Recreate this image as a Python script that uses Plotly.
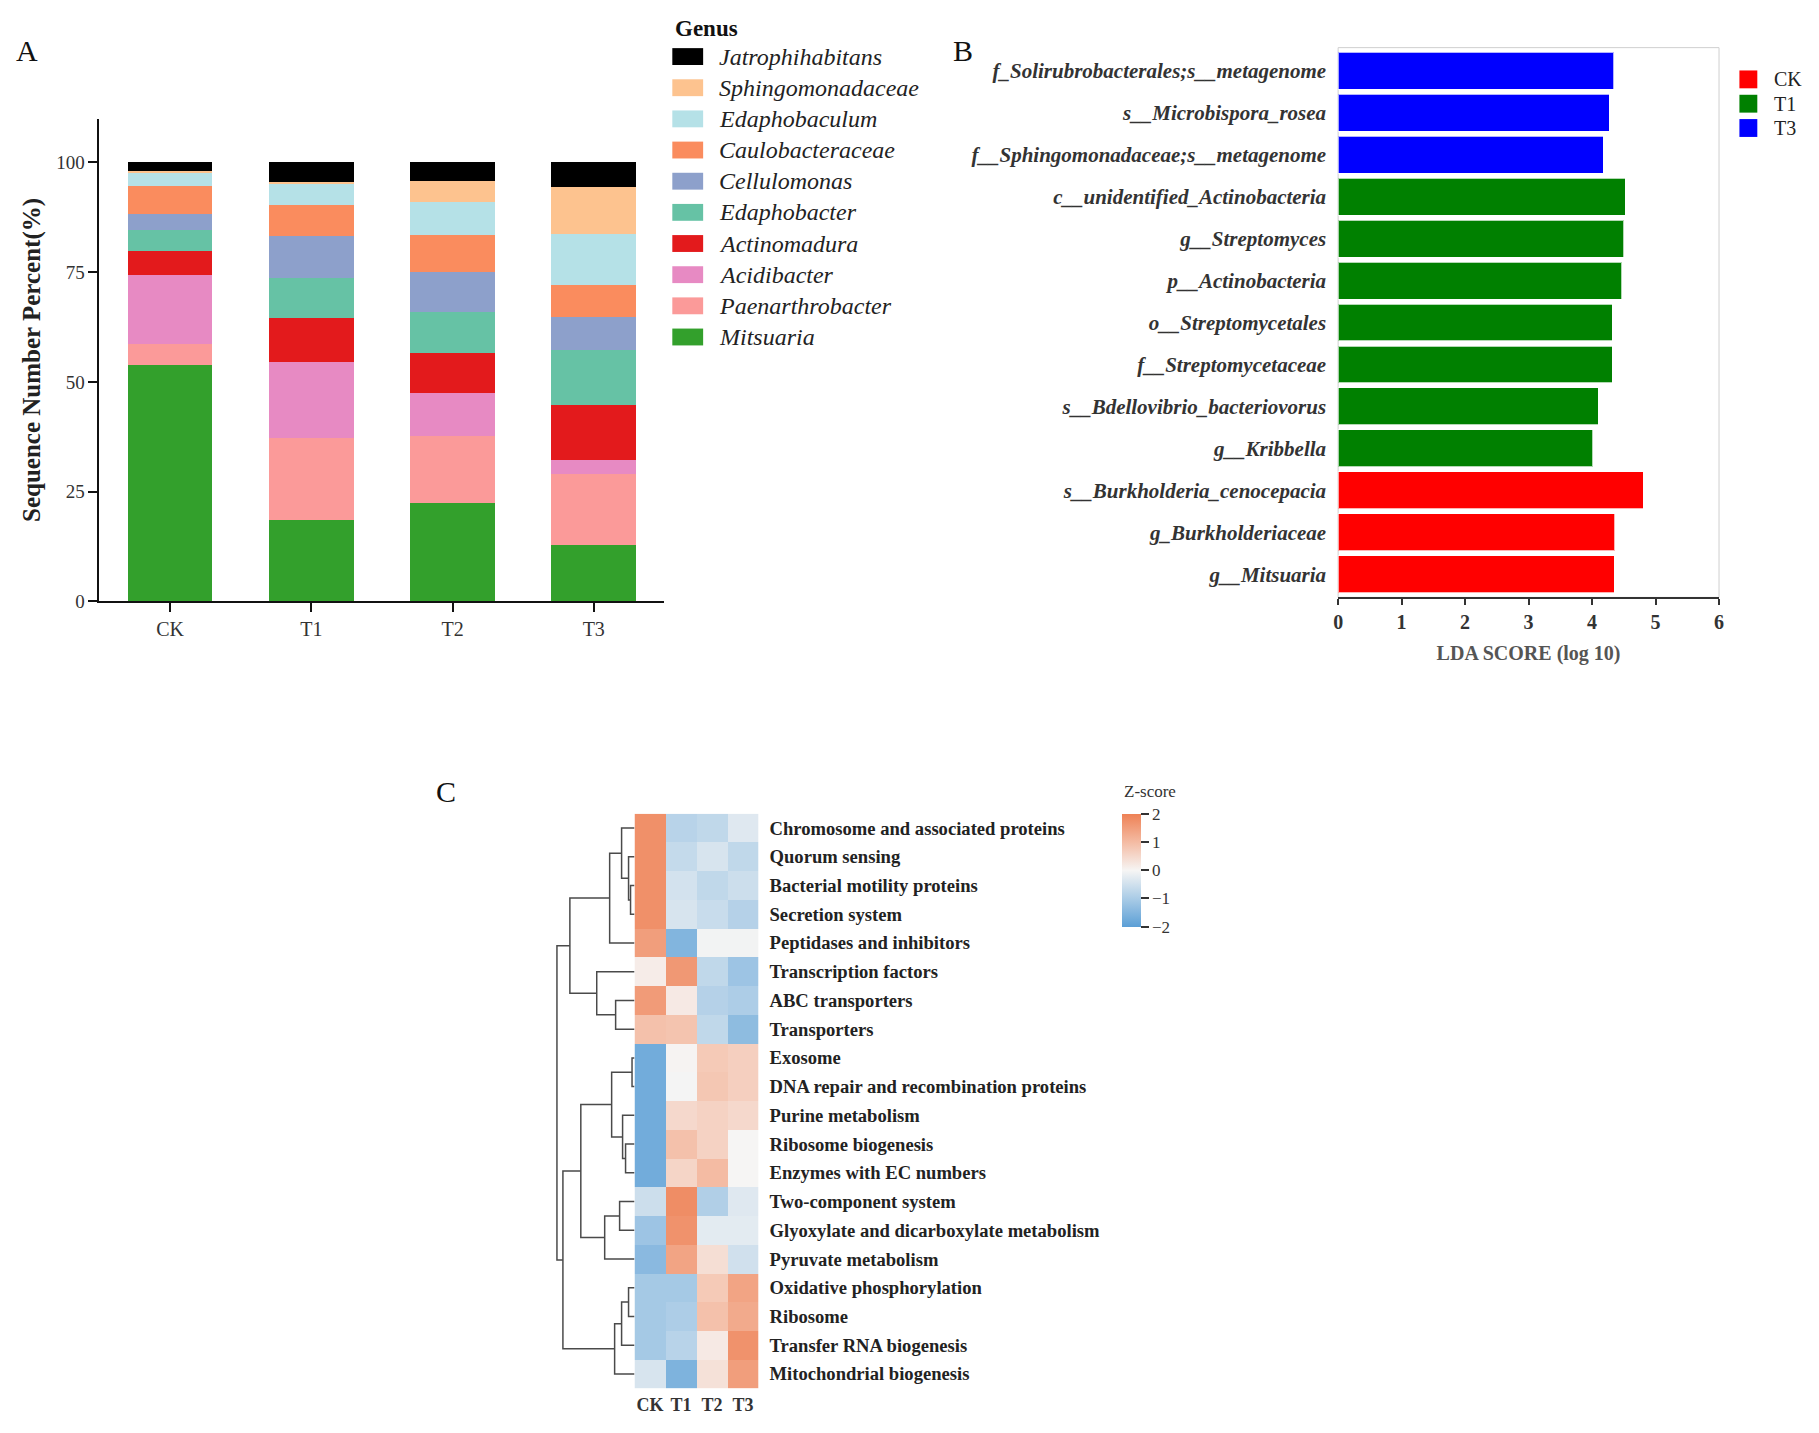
import plotly.graph_objects as go

# ---------------- data ----------------
groups = ["CK", "T1", "T2", "T3"]

genus_names = ["Jatrophihabitans", "Sphingomonadaceae", "Edaphobaculum", "Caulobacteraceae",
               "Cellulomonas", "Edaphobacter", "Actinomadura", "Acidibacter",
               "Paenarthrobacter", "Mitsuaria"]
jatrophihabitans = [1.9, 4.4, 4.3, 5.7]
sphingomonadaceae = [0.3, 0.2, 4.7, 10.6]
edaphobaculum = [3.2, 5.0, 7.5, 11.7]
caulobacteraceae = [6.4, 7.2, 8.4, 7.2]
cellulomonas = [3.5, 9.6, 9.1, 7.5]
edaphobacter = [4.9, 9.1, 9.4, 12.5]
actinomadura = [5.4, 9.9, 9.1, 12.5]
acidibacter = [15.8, 17.4, 9.8, 3.3]
paenarthrobacter = [4.7, 18.7, 15.3, 16.1]
mitsuaria = [53.9, 18.5, 22.4, 12.9]
percent_ticks = [0, 25, 50, 75, 100]

lda_features = ["f_Solirubrobacterales;s__metagenome", "s__Microbispora_rosea",
                "f__Sphingomonadaceae;s__metagenome", "c__unidentified_Actinobacteria",
                "g__Streptomyces", "p__Actinobacteria", "o__Streptomycetales",
                "f__Streptomycetaceae", "s__Bdellovibrio_bacteriovorus", "g__Kribbella",
                "s__Burkholderia_cenocepacia", "g_Burkholderiaceae", "g__Mitsuaria"]
lda_scores = [4.34, 4.27, 4.18, 4.52, 4.50, 4.47, 4.32, 4.32, 4.10, 4.01, 4.81, 4.36, 4.35]
lda_groups = ["T3", "T3", "T3", "T1", "T1", "T1", "T1", "T1", "T1", "T1", "CK", "CK", "CK"]
lda_legend = ["CK", "T1", "T3"]
lda_ticks = [0, 1, 2, 3, 4, 5, 6]

pathways = ["Chromosome and associated proteins", "Quorum sensing", "Bacterial motility proteins",
            "Secretion system", "Peptidases and inhibitors", "Transcription factors",
            "ABC transporters", "Transporters", "Exosome", "DNA repair and recombination proteins",
            "Purine metabolism", "Ribosome biogenesis", "Enzymes with EC numbers",
            "Two-component system", "Glyoxylate and dicarboxylate metabolism", "Pyruvate metabolism",
            "Oxidative phosphorylation", "Ribosome", "Transfer RNA biogenesis",
            "Mitochondrial biogenesis"]
heat_columns = ["CK", "T1", "T2", "T3"]
zscores = [
    [1.75, -0.80, -0.70, -0.30],
    [1.75, -0.65, -0.40, -0.70],
    [1.75, -0.45, -0.70, -0.55],
    [1.75, -0.40, -0.60, -0.85],
    [1.50, -1.50, -0.05, -0.05],
    [0.15, 1.60, -0.70, -1.15],
    [1.55, 0.20, -0.85, -0.95],
    [0.90, 0.85, -0.70, -1.35],
    [-1.70, 0.03, 0.75, 0.65],
    [-1.70, -0.02, 0.80, 0.65],
    [-1.70, 0.50, 0.60, 0.50],
    [-1.70, 0.90, 0.60, 0.00],
    [-1.70, 0.55, 1.00, 0.00],
    [-0.55, 1.80, -0.90, -0.30],
    [-1.15, 1.70, -0.25, -0.25],
    [-1.40, 1.40, 0.40, -0.50],
    [-1.05, -1.05, 0.75, 1.40],
    [-1.05, -0.95, 0.90, 1.30],
    [-1.05, -0.80, 0.20, 1.70],
    [-0.40, -1.55, 0.35, 1.50],
]
z_ticks = [-2, -1, 0, 1, 2]
# row clustering (scipy-like): (child a, child b, height); ids >= 20 are earlier merges
row_merges = [
    (2, 3, 4), (1, 20, 6), (0, 21, 13), (22, 4, 25), (6, 7, 19), (5, 24, 38), (23, 25, 65),
    (8, 9, 2.5), (11, 12, 9), (10, 28, 12), (27, 29, 23), (13, 14, 15), (31, 15, 30),
    (30, 32, 54), (16, 17, 6), (34, 18, 13), (35, 19, 20), (33, 36, 72), (26, 37, 78),
]

# ---------------- style ----------------
W, H = 1819, 1433
SERIF = "Liberation Serif, Times New Roman, serif"
genus_colors = {
    "Jatrophihabitans": "#000000", "Sphingomonadaceae": "#FDC38F", "Edaphobaculum": "#B5E1E7",
    "Caulobacteraceae": "#FA8C5E", "Cellulomonas": "#8DA0CB", "Edaphobacter": "#66C2A5",
    "Actinomadura": "#E31A1C", "Acidibacter": "#E78AC3", "Paenarthrobacter": "#FB9A99",
    "Mitsuaria": "#33A02C",
}
group_colors = {"CK": "#FF0000", "T1": "#008000", "T3": "#0000FF"}


def px(x):
    return x / W


def py(y):
    return 1 - y / H


genus_values = {
    "Jatrophihabitans": jatrophihabitans, "Sphingomonadaceae": sphingomonadaceae,
    "Edaphobaculum": edaphobaculum, "Caulobacteraceae": caulobacteraceae,
    "Cellulomonas": cellulomonas, "Edaphobacter": edaphobacter, "Actinomadura": actinomadura,
    "Acidibacter": acidibacter, "Paenarthrobacter": paenarthrobacter, "Mitsuaria": mitsuaria,
}

HM_TOP, HM_BOT = 820, 1399

fig = go.Figure()

# ---- Panel A: stacked bars ----
for name in reversed(genus_names):
    fig.add_trace(go.Bar(
        x=groups, y=genus_values[name], name=name, width=0.6,
        marker=dict(color=genus_colors[name], line=dict(width=0)),
        xaxis="x", yaxis="y", showlegend=False,
    ))

# ---- Panel B: LDA bars ----
for g in lda_legend:
    idx = [i for i, gg in enumerate(lda_groups) if gg == g]
    fig.add_trace(go.Bar(
        x=[lda_scores[i] for i in idx], y=idx, orientation="h", width=0.88, name=g,
        marker=dict(color=group_colors[g], line=dict(color="rgba(255,255,255,0.7)", width=1)),
        xaxis="x2", yaxis="y2", showlegend=False,
    ))

# ---- Panel C: heatmap ----
fig.add_trace(go.Heatmap(
    z=zscores, x=list(range(len(heat_columns))), y=list(range(len(pathways))),
    zmin=-2, zmax=2,
    colorscale=[[0.0, "#5B9FD6"], [0.25, "#A9CBE6"], [0.5, "#F6F5F4"],
                [0.75, "#F4BBA3"], [1.0, "#EE8155"]],
    xaxis="x3", yaxis="y3",
    colorbar=dict(
        tickvals=z_ticks, ticks="outside", ticklen=8, tickwidth=2, tickcolor="#333",
        tickfont=dict(family=SERIF, size=17, color="#333"),
        thicknessmode="pixels", thickness=19, lenmode="pixels", len=113,
        x=px(1123), xanchor="left", y=py(HM_TOP), yanchor="top", outlinewidth=0, xpad=0, ypad=0,
    ),
))

# dendrogram
pos = {i: (float(i), 0.0) for i in range(len(pathways))}
dx, dy = [], []
for k, (a, b, h) in enumerate(row_merges):
    ya, ha = pos[a]
    yb, hb = pos[b]
    dx += [ha, h, h, hb, None]
    dy += [ya, ya, yb, yb, None]
    pos[len(pathways) + k] = ((ya + yb) / 2, h)
fig.add_trace(go.Scatter(x=dx, y=dy, mode="lines", line=dict(color="#4A4A4A", width=1.5),
                         xaxis="x4", yaxis="y3", showlegend=False, hoverinfo="skip"))

shapes = []
annotations = []

# legend A
annotations.append(dict(text="<b>Genus</b>", x=px(672), y=py(29), xref="paper", yref="paper",
                        xanchor="left", yanchor="middle", showarrow=False,
                        font=dict(family=SERIF, size=23, color="#111")))
for i, name in enumerate(genus_names):
    yc = 57 + 31.4 * i
    shapes.append(dict(type="rect", xref="paper", yref="paper", x0=px(671), x1=px(702),
                       y0=py(yc + 8.5), y1=py(yc - 8.5), fillcolor=genus_colors[name],
                       line=dict(width=0)))
    annotations.append(dict(text=name, x=px(716), y=py(yc), xref="paper", yref="paper",
                            xanchor="left", yanchor="middle", showarrow=False,
                            font=dict(family=SERIF, size=24, color="#222", style="italic")))

# legend B
for i, g in enumerate(lda_legend):
    yc = 80 + 24.5 * i
    shapes.append(dict(type="rect", xref="paper", yref="paper", x0=px(1744), x1=px(1762),
                       y0=py(yc + 9), y1=py(yc - 9), fillcolor=group_colors[g], line=dict(width=0)))
    annotations.append(dict(text=g, x=px(1777), y=py(yc), xref="paper", yref="paper",
                            xanchor="left", yanchor="middle", showarrow=False,
                            font=dict(family=SERIF, size=20, color="#222")))

# colorbar title
annotations.append(dict(text="Z-score", x=px(1151), y=py(798), xref="paper", yref="paper",
                        xanchor="center", yanchor="middle", showarrow=False,
                        font=dict(family=SERIF, size=17, color="#333")))

# panel B frame
shapes.append(dict(type="rect", xref="x2 domain", yref="y2 domain", x0=0, x1=1, y0=0, y1=1,
                   line=dict(color="#CFCFCF", width=1), layer="below"))

# panel letters
for letter, (lx, ly) in {"A": (22, 51), "B": (963, 51), "C": (443, 798)}.items():
    annotations.append(dict(text=letter, x=px(lx), y=py(ly), xref="paper", yref="paper",
                            xanchor="center", yanchor="middle", showarrow=False,
                            font=dict(family=SERIF, size=30, color="#111")))

fig.update_layout(
    width=W, height=H, margin=dict(l=0, r=0, t=0, b=0),
    paper_bgcolor="white", plot_bgcolor="white", barmode="stack",
    font=dict(family=SERIF, color="#222"),
    shapes=shapes, annotations=annotations, showlegend=False,
    xaxis=dict(domain=[px(95), px(663)], anchor="y", range=[-0.5, 3.5], type="category",
               showline=True, linecolor="#111", linewidth=2, ticks="outside", ticklen=9,
               tickwidth=2, tickcolor="#111", showgrid=False, zeroline=False,
               tickfont=dict(family=SERIF, size=20, color="#333")),
    yaxis=dict(domain=[py(606), py(119.5)], anchor="x", range=[0, 110], tickvals=percent_ticks,
               showline=True, linecolor="#111", linewidth=2, ticks="outside", ticklen=9,
               tickwidth=2, tickcolor="#111", showgrid=False, zeroline=False,
               tickfont=dict(family=SERIF, size=19, color="#333"),
               title=dict(text="Sequence Number Percent(%)", standoff=8,
                          font=dict(family=SERIF, size=25, color="#222", weight="bold"))),
    xaxis2=dict(domain=[px(1340.5), px(1723.5)], anchor="y2", range=[0, 6], tickvals=lda_ticks,
                showline=True, linecolor="#333", linewidth=1.5, ticks="outside", ticklen=6,
                tickwidth=1.5, tickcolor="#333", showgrid=False, zeroline=False,
                tickfont=dict(family=SERIF, size=20, color="#333", weight="bold"),
                title=dict(text="LDA SCORE (log 10)", standoff=14,
                           font=dict(family=SERIF, size=20, color="#555", weight="bold"))),
    yaxis2=dict(domain=[py(602), py(48)], anchor="x2", range=[12.55, -0.55],
                tickvals=list(range(len(lda_features))), ticktext=lda_features, ticks="",
                showline=False, showgrid=False, zeroline=False, ticklabelstandoff=11,
                tickfont=dict(family=SERIF, size=21, color="#333", weight="bold", style="italic")),
    xaxis3=dict(domain=[px(633), px(757.7)], anchor="y3", range=[-0.5, 3.5],
                tickvals=list(range(len(heat_columns))), ticktext=heat_columns, ticks="",
                showline=False, showgrid=False, zeroline=False, ticklabelstandoff=4,
                tickfont=dict(family=SERIF, size=18, color="#333", weight="bold")),
    yaxis3=dict(domain=[py(HM_BOT), py(HM_TOP)], anchor="x3", range=[len(pathways) - 0.5, -0.5],
                side="right", tickvals=list(range(len(pathways))), ticktext=pathways, ticks="",
                showline=False, showgrid=False, zeroline=False, ticklabelstandoff=10,
                tickfont=dict(family=SERIF, size=18.6, color="#222", weight="bold")),
    xaxis4=dict(domain=[px(550), px(633)], anchor="y3", range=[83, 0], visible=False,
                showgrid=False, zeroline=False),
)

fig.write_html("out.html", config={"displayModeBar": False},
               post_script="document.body.style.margin='0';")
